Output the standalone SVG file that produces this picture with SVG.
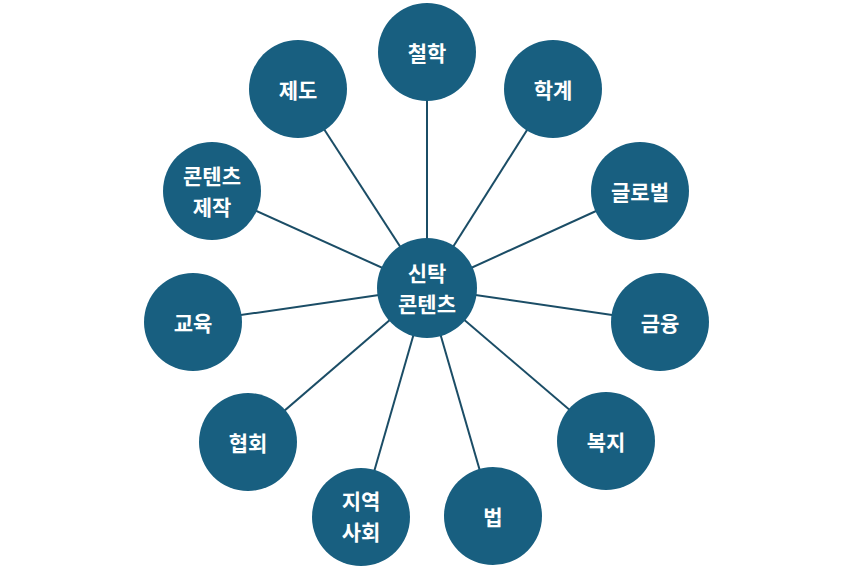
<svg xmlns="http://www.w3.org/2000/svg" width="853" height="568" viewBox="0 0 853 568">
<style>
.n{fill:#185f80}
.t{fill:#ffffff;font-family:"Noto Sans CJK KR","Noto Sans",sans-serif;font-weight:700;font-size:21px;text-anchor:middle;dominant-baseline:central}
.c line{stroke:#1b4d66;stroke-width:2}
</style>
<rect width="853" height="568" fill="#ffffff"/>
<g id="connectors" class="c">
<line x1="427" y1="288" x2="427" y2="52"/>
<line x1="427" y1="288" x2="553" y2="89"/>
<line x1="427" y1="288" x2="640" y2="191"/>
<line x1="427" y1="288" x2="660" y2="322"/>
<line x1="427" y1="288" x2="606" y2="441"/>
<line x1="427" y1="288" x2="493" y2="516"/>
<line x1="427" y1="288" x2="361" y2="517"/>
<line x1="427" y1="288" x2="248" y2="442"/>
<line x1="427" y1="288" x2="193" y2="322"/>
<line x1="427" y1="288" x2="212" y2="191"/>
<line x1="427" y1="288" x2="298" y2="89"/>
</g>
<g id="center"><circle class="n" cx="427" cy="288" r="50"/><text class="t" x="427" y="272">신탁</text><text class="t" x="427" y="303">콘텐츠</text></g>
<g id="n1"><circle class="n" cx="427" cy="52" r="49"/><text class="t" x="427" y="52">철학</text></g>
<g id="n2"><circle class="n" cx="553" cy="89" r="49"/><text class="t" x="553" y="89">학계</text></g>
<g id="n3"><circle class="n" cx="640" cy="191" r="49"/><text class="t" x="640" y="191">글로벌</text></g>
<g id="n4"><circle class="n" cx="660" cy="322" r="49"/><text class="t" x="660" y="322">금융</text></g>
<g id="n5"><circle class="n" cx="606" cy="441" r="49"/><text class="t" x="606" y="441">복지</text></g>
<g id="n6"><circle class="n" cx="493" cy="516" r="49"/><text class="t" x="493" y="516">법</text></g>
<g id="n7"><circle class="n" cx="361" cy="517" r="49"/><text class="t" x="361" y="500">지역</text><text class="t" x="361" y="531">사회</text></g>
<g id="n8"><circle class="n" cx="248" cy="442" r="49"/><text class="t" x="248" y="442">협회</text></g>
<g id="n9"><circle class="n" cx="193" cy="322" r="49"/><text class="t" x="193" y="322">교육</text></g>
<g id="n10"><circle class="n" cx="212" cy="191" r="49"/><text class="t" x="212" y="175">콘텐츠</text><text class="t" x="212" y="206">제작</text></g>
<g id="n11"><circle class="n" cx="298" cy="89" r="49"/><text class="t" x="298" y="89">제도</text></g>
</svg>
